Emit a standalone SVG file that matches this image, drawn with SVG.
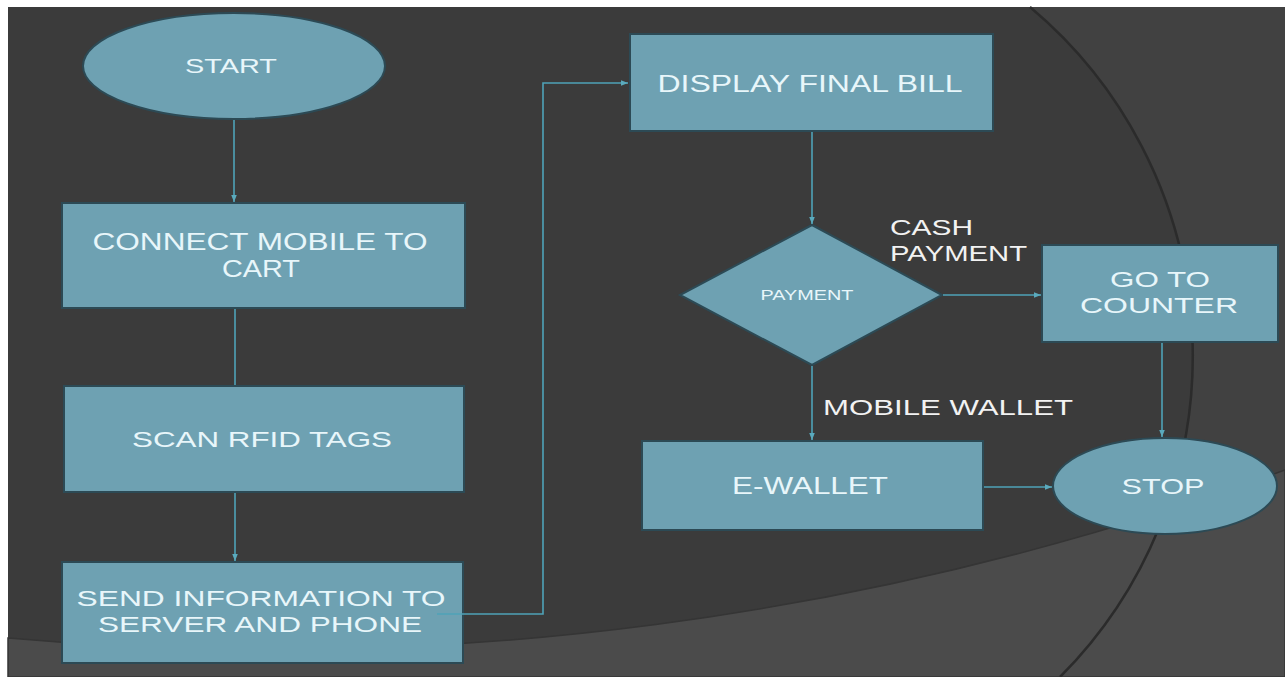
<svg xmlns="http://www.w3.org/2000/svg" width="1285" height="677" viewBox="0 0 1285 677">
  <defs>
    <style>
      .node { fill: #6ea1b2; stroke: #2c4a55; stroke-width: 2; }
      .ntext { font-family: "Liberation Sans", Arial, sans-serif; fill: #e8f6fa; text-anchor: middle; }
      .label { font-family: "Liberation Sans", Arial, sans-serif; fill: #f2f2f2; }
      .conn { fill: none; stroke: #4fa3b8; stroke-width: 1.6; }
    </style>
    <marker id="arrow" viewBox="0 0 10 10" refX="10" refY="5" markerWidth="7" markerHeight="7" markerUnits="userSpaceOnUse" orient="auto">
      <path d="M0,1 L10,5 L0,9 Z" fill="#5aaabd"/>
    </marker>
  </defs>

  <!-- background -->
  <rect x="0" y="0" width="1285" height="677" fill="#ffffff"/>
  <rect x="8" y="7" width="1277" height="670" fill="#3b3b3b"/>
  <path d="M1030,7 A455,455 0 0 1 1060,677 L1285,677 L1285,7 Z" fill="#414141"/>
  <path d="M8,638 A2951,2951 0 0 0 1285,470 L1285,677 L8,677 Z" fill="#4b4b4b" stroke="#353535" stroke-width="1.5"/>
  <path d="M1030,7 A455,455 0 0 1 1060,677" fill="none" stroke="#2b2b2b" stroke-width="2.5"/>

  <!-- nodes -->
  <g id="start">
    <ellipse class="node" cx="234" cy="66" rx="151" ry="53"/>
    <text class="ntext" x="231" y="73" font-size="21" textLength="92" lengthAdjust="spacingAndGlyphs">START</text>
  </g>
  <g id="connect">
    <rect class="node" x="62" y="203" width="403" height="105"/>
    <text class="ntext" x="260" y="250" font-size="23" textLength="335" lengthAdjust="spacingAndGlyphs">CONNECT MOBILE TO</text>
    <text class="ntext" x="261" y="277" font-size="23" textLength="78" lengthAdjust="spacingAndGlyphs">CART</text>
  </g>
  <g id="scan">
    <rect class="node" x="64" y="386" width="400" height="106"/>
    <text class="ntext" x="262" y="447" font-size="22" textLength="260" lengthAdjust="spacingAndGlyphs">SCAN RFID TAGS</text>
  </g>
  <g id="send">
    <rect class="node" x="62" y="562" width="401" height="101"/>
    <text class="ntext" x="261" y="606" font-size="22" textLength="369" lengthAdjust="spacingAndGlyphs">SEND INFORMATION TO</text>
    <text class="ntext" x="260" y="632" font-size="22" textLength="324" lengthAdjust="spacingAndGlyphs">SERVER AND PHONE</text>
  </g>
  <g id="display">
    <rect class="node" x="630" y="34" width="363" height="97"/>
    <text class="ntext" x="810" y="92" font-size="23" textLength="305" lengthAdjust="spacingAndGlyphs">DISPLAY FINAL BILL</text>
  </g>
  <g id="payment">
    <polygon class="node" points="812,225 942,295 812,365 680,295"/>
    <text class="ntext" x="807" y="300" font-size="15" textLength="93" lengthAdjust="spacingAndGlyphs">PAYMENT</text>
  </g>
  <g id="cash-label">
    <text class="label" x="890" y="235" font-size="22" textLength="83" lengthAdjust="spacingAndGlyphs">CASH</text>
    <text class="label" x="890" y="261" font-size="22" textLength="137" lengthAdjust="spacingAndGlyphs">PAYMENT</text>
  </g>
  <g id="counter">
    <rect class="node" x="1042" y="245" width="236" height="97"/>
    <text class="ntext" x="1160" y="287" font-size="22" textLength="100" lengthAdjust="spacingAndGlyphs">GO TO</text>
    <text class="ntext" x="1159" y="313" font-size="22" textLength="158" lengthAdjust="spacingAndGlyphs">COUNTER</text>
  </g>
  <g id="wallet-label">
    <text class="label" x="823" y="415" font-size="22" textLength="250" lengthAdjust="spacingAndGlyphs">MOBILE WALLET</text>
  </g>
  <g id="ewallet">
    <rect class="node" x="642" y="441" width="341" height="89"/>
    <text class="ntext" x="810" y="494" font-size="23" textLength="156" lengthAdjust="spacingAndGlyphs">E-WALLET</text>
  </g>
  <g id="stop">
    <ellipse class="node" cx="1165" cy="486" rx="112" ry="48"/>
    <text class="ntext" x="1163" y="494" font-size="22" textLength="83" lengthAdjust="spacingAndGlyphs">STOP</text>
  </g>

  <!-- connectors -->
  <g id="connectors">
    <line class="conn" x1="234" y1="120" x2="234" y2="202" marker-end="url(#arrow)"/>
    <line class="conn" x1="235" y1="309" x2="235" y2="385"/>
    <line class="conn" x1="235" y1="493" x2="235" y2="561" marker-end="url(#arrow)"/>
    <polyline class="conn" points="437,614 543,614 543,83 628,83" marker-end="url(#arrow)"/>
    <line class="conn" x1="812" y1="132" x2="812" y2="224" marker-end="url(#arrow)"/>
    <line class="conn" x1="943" y1="295" x2="1041" y2="295" marker-end="url(#arrow)"/>
    <line class="conn" x1="812" y1="366" x2="812" y2="440" marker-end="url(#arrow)"/>
    <line class="conn" x1="1162" y1="343" x2="1162" y2="437" marker-end="url(#arrow)"/>
    <line class="conn" x1="984" y1="487" x2="1052" y2="487" marker-end="url(#arrow)"/>
  </g>
</svg>
